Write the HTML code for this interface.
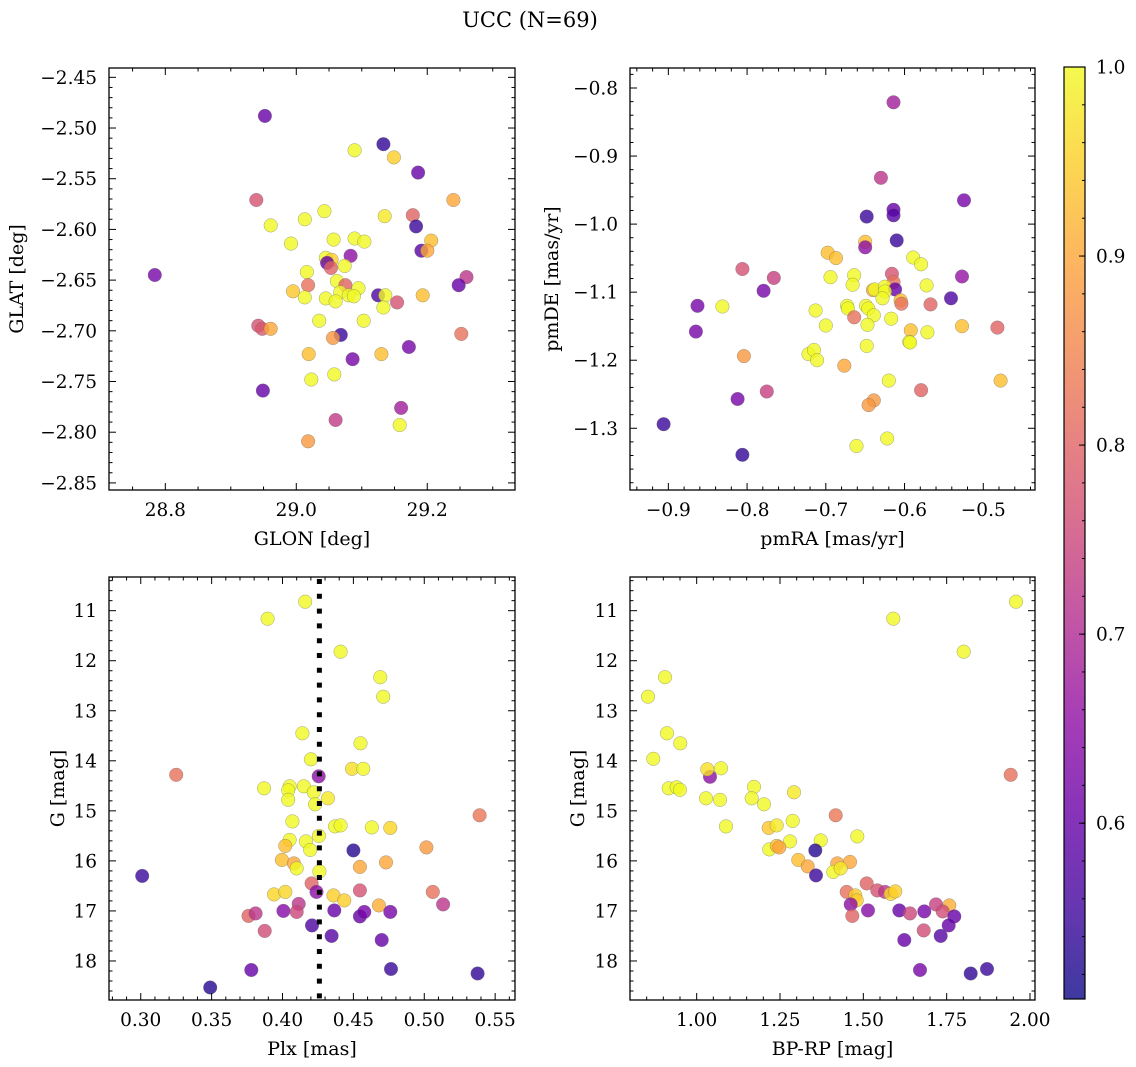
<!DOCTYPE html>
<html><head><meta charset="utf-8"><style>
html,body{margin:0;padding:0;background:#fff;}
svg{display:block;font-family:"DejaVu Serif","Liberation Serif",serif;}
</style></head><body>
<svg id="fig" width="1136" height="1067" viewBox="0 0 1136 1067" xmlns="http://www.w3.org/2000/svg">
<rect width="1136" height="1067" fill="#fff"/>
<text x="530" y="27" font-size="21" text-anchor="middle">UCC (N=69)</text>
<defs>
<linearGradient id="cbg" x1="0" y1="1" x2="0" y2="0">
<stop offset="0" stop-color="#0d0887"/><stop offset="0.1" stop-color="#41049d"/><stop offset="0.2" stop-color="#6a00a8"/><stop offset="0.3" stop-color="#8f0da4"/><stop offset="0.4" stop-color="#b12a90"/><stop offset="0.5" stop-color="#cc4778"/><stop offset="0.6" stop-color="#e16462"/><stop offset="0.7" stop-color="#f2844b"/><stop offset="0.8" stop-color="#fca636"/><stop offset="0.9" stop-color="#fcce25"/><stop offset="1" stop-color="#f0f921"/>
</linearGradient>
</defs>
<g id="root"></g>
</svg>
<script>
// Panel 1: GLON / GLAT
const p1x=[28.952,29.133,29.089,29.149,29.186,28.939,29.240,29.043,29.135,29.178,28.961,29.013,29.183,28.992,29.057,29.089,29.104,29.206,29.191,29.200,29.083,29.045,29.054,29.047,29.053,29.074,29.016,28.784,29.260,29.248,29.062,29.075,29.018,29.095,28.995,29.067,29.080,29.088,29.013,29.045,29.060,29.125,29.136,29.193,29.154,29.133,29.035,29.103,28.942,28.948,28.961,29.068,29.056,29.252,29.019,29.130,29.172,29.086,29.058,29.023,28.949,29.160,29.060,29.158,29.018];
const p1y=[-2.488,-2.516,-2.522,-2.529,-2.544,-2.571,-2.571,-2.582,-2.587,-2.586,-2.596,-2.590,-2.597,-2.614,-2.610,-2.609,-2.612,-2.611,-2.621,-2.621,-2.626,-2.628,-2.630,-2.633,-2.638,-2.636,-2.642,-2.645,-2.647,-2.655,-2.651,-2.655,-2.655,-2.658,-2.661,-2.662,-2.665,-2.666,-2.667,-2.668,-2.671,-2.665,-2.665,-2.665,-2.672,-2.677,-2.690,-2.690,-2.695,-2.698,-2.698,-2.704,-2.707,-2.703,-2.723,-2.723,-2.716,-2.728,-2.743,-2.748,-2.759,-2.776,-2.788,-2.793,-2.809];
const p1c=[0.6,0.54,1,0.95,0.6,0.77,0.9,1,0.98,0.8,1,1,0.55,1,1,1,1,0.93,0.58,0.9,0.65,1,0.95,0.6,0.8,1,1,0.62,0.72,0.6,1,0.8,0.82,1,0.94,1,1,1,1,1,1,0.57,1,0.93,0.77,1,1,1,0.77,0.78,0.9,0.55,0.88,0.82,0.93,0.93,0.62,0.62,1,1,0.6,0.68,0.73,1,0.88];
// Panel 2: pmRA / pmDE
const p2x=[-0.614,-0.630,-0.5245,-0.648,-0.614,-0.614,-0.610,-0.650,-0.650,-0.6976,-0.687,-0.589,-0.579,-0.806,-0.766,-0.694,-0.664,-0.666,-0.616,-0.614,-0.527,-0.572,-0.779,-0.640,-0.638,-0.625,-0.612,-0.625,-0.628,-0.541,-0.605,-0.604,-0.567,-0.863,-0.8314,-0.673,-0.672,-0.649,-0.646,-0.639,-0.713,-0.664,-0.647,-0.617,-0.700,-0.865,-0.592,-0.571,-0.527,-0.482,-0.594,-0.593,-0.648,-0.804,-0.722,-0.715,-0.711,-0.6765,-0.620,-0.478,-0.775,-0.579,-0.812,-0.639,-0.6456,-0.906,-0.622,-0.661,-0.806];
const p2y=[-0.821,-0.932,-0.965,-0.989,-0.979,-0.987,-1.024,-1.026,-1.034,-1.042,-1.050,-1.049,-1.059,-1.066,-1.079,-1.078,-1.075,-1.089,-1.073,-1.085,-1.077,-1.090,-1.098,-1.097,-1.096,-1.092,-1.096,-1.099,-1.109,-1.109,-1.112,-1.117,-1.118,-1.120,-1.121,-1.120,-1.124,-1.120,-1.124,-1.134,-1.127,-1.137,-1.148,-1.139,-1.149,-1.158,-1.156,-1.159,-1.150,-1.152,-1.173,-1.174,-1.179,-1.194,-1.191,-1.185,-1.200,-1.208,-1.230,-1.230,-1.246,-1.244,-1.257,-1.259,-1.266,-1.294,-1.315,-1.326,-1.339];
const p2c=[0.68,0.72,0.62,0.55,0.6,0.58,0.55,0.93,0.65,0.93,0.93,1,1,0.77,0.74,1,1,1,0.77,0.82,0.66,1,0.62,0.9,1,1,0.6,1,1,0.57,0.93,0.82,0.8,0.62,1,1,1,1,1,1,1,0.82,1,1,1,0.62,0.93,1,0.93,0.8,1,1,1,0.88,1,1,1,0.9,1,0.93,0.74,0.8,0.62,0.88,0.88,0.55,1,1,0.54];
// Panel 3: Plx / G
const p3x=[0.416,0.3895,0.441,0.469,0.471,0.414,0.455,0.420,0.325,0.4255,0.449,0.457,0.387,0.405,0.404,0.415,0.422,0.432,0.404,0.423,0.539,0.407,0.437,0.441,0.463,0.476,0.4257,0.405,0.4165,0.402,0.4195,0.450,0.5015,0.3996,0.408,0.410,0.4546,0.473,0.426,0.301,0.4205,0.424,0.4546,0.506,0.394,0.402,0.436,0.4436,0.468,0.5133,0.4114,0.376,0.381,0.4006,0.410,0.4365,0.4546,0.4577,0.476,0.4208,0.3874,0.4346,0.470,0.378,0.4765,0.5376,0.349];
const p3y=[10.82,11.16,11.82,12.33,12.72,13.45,13.65,13.97,14.28,14.31,14.16,14.16,14.55,14.51,14.59,14.51,14.63,14.75,14.78,14.87,15.09,15.21,15.31,15.29,15.33,15.34,15.5,15.58,15.61,15.7,15.78,15.79,15.73,15.98,16.05,16.15,16.12,16.03,16.21,16.3,16.45,16.62,16.59,16.62,16.67,16.62,16.69,16.79,16.89,16.87,16.86,17.1,17.05,17.0,17.02,16.99,17.11,17.02,17.02,17.29,17.4,17.5,17.58,18.18,18.16,18.25,18.53];
const p3c=[1,1,1,1,1,1,1,1,0.82,0.65,0.97,1,1,1,1,1,1,0.98,1,1,0.83,1,1,1,1,0.96,1,1,1,0.93,1,0.53,0.88,0.93,0.9,1,0.9,0.9,1,0.55,0.8,0.65,0.77,0.82,0.96,0.96,0.95,0.95,0.91,0.72,0.72,0.8,0.72,0.64,0.75,0.6,0.6,0.62,0.62,0.57,0.76,0.58,0.6,0.6,0.55,0.54,0.53];
const plxMean=[0.426];
// Panel 4: BP-RP / G
const p4x=[1.958,1.59,1.801,0.905,0.854,0.911,0.951,0.87,1.942,1.04,1.032,1.073,0.916,0.94,0.95,1.172,1.292,1.028,1.07,1.165,1.202,1.417,1.088,1.288,1.216,1.24,1.482,1.372,1.28,1.218,1.24,1.248,1.356,1.305,1.333,1.422,1.46,1.41,1.432,1.358,1.51,1.45,1.542,1.565,1.582,1.596,1.476,1.48,1.462,1.758,1.718,1.467,1.514,1.608,1.64,1.683,1.738,1.773,1.756,1.681,1.732,1.623,1.67,1.871,1.822];
const p4y=[10.82,11.16,11.82,12.33,12.72,13.45,13.65,13.96,14.28,14.32,14.17,14.15,14.55,14.53,14.58,14.52,14.63,14.75,14.78,14.75,14.87,15.09,15.31,15.2,15.34,15.29,15.51,15.59,15.61,15.77,15.7,15.73,15.79,15.98,16.11,16.05,16.02,16.22,16.15,16.29,16.45,16.62,16.59,16.62,16.66,16.61,16.69,16.79,16.87,16.89,16.87,17.1,16.99,16.99,17.05,17.01,17.01,17.11,17.29,17.39,17.5,17.58,18.18,18.16,18.25];
const p4c=[1,1,1,1,1,1,1,1,0.82,0.65,0.97,1,1,1,1,1,0.98,1,1,1,1,0.83,1,1,0.94,0.98,1,1,1,1,0.93,0.9,0.53,0.93,0.9,0.9,0.9,1,0.98,0.55,0.8,0.82,0.77,0.72,0.96,0.95,0.95,0.95,0.65,0.91,0.74,0.8,0.64,0.6,0.75,0.62,0.76,0.6,0.6,0.76,0.58,0.6,0.62,0.55,0.54];
const cbTicks=[0.6,0.7,0.8,0.9,1.0];
const cbMin=0.507, cbMax=1.0;

const NS="http://www.w3.org/2000/svg";
const root=document.getElementById('root');
const TICKFS=18.5, LABFS=19;
function mk(tag,attrs,parent){const e=document.createElementNS(NS,tag);for(const k in attrs)e.setAttribute(k,attrs[k]);(parent||root).appendChild(e);return e;}
const stops=[[13,8,135],[65,4,157],[106,0,168],[143,13,164],[177,42,144],[204,71,120],[225,100,98],[242,132,75],[252,166,54],[252,206,37],[240,249,33]];
function plasma(t){t=Math.max(0,Math.min(1,t));const f=t*10;const i=Math.min(9,Math.floor(f));const r=f-i;const a=stops[i],b=stops[i+1];return 'rgb('+[0,1,2].map(k=>Math.round(a[k]+(b[k]-a[k])*r)).join(',')+')';}
function fmt(v,d){const s=Math.abs(v).toFixed(d);return (v<-1e-9?'\u2212':'')+s;}

function panel(cfg){
  const g=mk('g',{});
  
  
  const X=v=>cfg.L+(v-cfg.x0)/(cfg.x1-cfg.x0)*(cfg.R-cfg.L);
  const Y=v=>cfg.T+(v-cfg.y0)/(cfg.y1-cfg.y0)*(cfg.B-cfg.T);
  const clip='clip-'+cfg.name;
  const cp=mk('clipPath',{id:clip},g);mk('rect',{x:cfg.L,y:cfg.T,width:cfg.R-cfg.L,height:cfg.B-cfg.T},cp);
  const pts=mk('g',{'clip-path':'url(#'+clip+')'},g);
  for(let i=0;i<cfg.xs.length;i++){
    const c=mk('circle',{cx:X(cfg.xs[i]).toFixed(1),cy:Y(cfg.ys[i]).toFixed(1),r:6.8,fill:plasma((cfg.cs[i]-cbMin)/(cbMax-cbMin)),'fill-opacity':0.8,stroke:'#666','stroke-opacity':0.6,'stroke-width':0.5},pts);
    
    
  }
  if(cfg.vline){
    const l=mk('line',{x1:X(cfg.vline),x2:X(cfg.vline),y1:cfg.T+2,y2:cfg.B,stroke:'#000','stroke-width':5,'stroke-dasharray':'5 9.8'},pts);
    
    
  }
  const tk=mk('g',{stroke:'#000','stroke-width':1},g);
  const lo=Math.min(cfg.x0,cfg.x1),hi=Math.max(cfg.x0,cfg.x1);
  for(let k=Math.ceil(lo/cfg.xmin-1e-6);k*cfg.xmin<=hi+1e-9;k++){
    const v=k*cfg.xmin;const major=Math.abs(v/cfg.xmaj-Math.round(v/cfg.xmaj))<1e-6;const len=major?7:3.5;const x=X(v);
    mk('line',{x1:x,x2:x,y1:cfg.B,y2:cfg.B-len},tk);mk('line',{x1:x,x2:x,y1:cfg.T,y2:cfg.T+len},tk);
    if(major){const t=mk('text',{x:x,y:cfg.B+26,'font-size':TICKFS,'text-anchor':'middle',stroke:'none',fill:'#000'},g);t.textContent=fmt(v,cfg.xd);
      
      }
  }
  const ylo=Math.min(cfg.y0,cfg.y1),yhi=Math.max(cfg.y0,cfg.y1);
  for(let k=Math.ceil(ylo/cfg.ymin-1e-6);k*cfg.ymin<=yhi+1e-9;k++){
    const v=k*cfg.ymin;const major=Math.abs(v/cfg.ymaj-Math.round(v/cfg.ymaj))<1e-6;const len=major?7:3.5;const y=Y(v);
    mk('line',{x1:cfg.L,x2:cfg.L+len,y1:y,y2:y},tk);mk('line',{x1:cfg.R,x2:cfg.R-len,y1:y,y2:y},tk);
    if(major){const t=mk('text',{x:cfg.L-12,y:y+6.5,'font-size':TICKFS,'text-anchor':'end',stroke:'none',fill:'#000'},g);t.textContent=fmt(v,cfg.yd);
      
      }
  }
  const fr=mk('rect',{x:cfg.L,y:cfg.T,width:cfg.R-cfg.L,height:cfg.B-cfg.T,fill:'none',stroke:'#000','stroke-width':1.3},g);
  
  
  const xl=mk('text',{x:(cfg.L+cfg.R)/2,y:cfg.B+55,'font-size':LABFS,'text-anchor':'middle'},g);xl.textContent=cfg.xlab;
  
  
  const yx=cfg.ylx, yy=(cfg.T+cfg.B)/2;
  const yl=mk('text',{x:yx,y:yy,'font-size':LABFS,'text-anchor':'middle',transform:'rotate(-90 '+yx+' '+yy+')'},g);yl.textContent=cfg.ylab;
  
  
}

panel({name:'panel-glon-glat',L:109,R:515,T:68,B:490,x0:28.714,x1:29.334,y0:-2.4408,y1:-2.857,xs:p1x,ys:p1y,cs:p1c,xmaj:0.2,xmin:0.05,xd:1,ymaj:0.05,ymin:0.01,yd:2,xlab:'GLON [deg]',ylab:'GLAT [deg]',ylx:23});
panel({name:'panel-pm',L:630,R:1035,T:68,B:490,x0:-0.9487,x1:-0.4343,y0:-0.7706,y1:-1.3907,xs:p2x,ys:p2y,cs:p2c,xmaj:0.1,xmin:0.02,xd:1,ymaj:0.1,ymin:0.02,yd:1,xlab:'pmRA [mas/yr]',ylab:'pmDE [mas/yr]',ylx:558});
panel({name:'panel-plx-g',L:109,R:515,T:577,B:1000,x0:0.2776,x1:0.564,y0:10.327,y1:18.78,xs:p3x,ys:p3y,cs:p3c,xmaj:0.05,xmin:0.01,xd:2,ymaj:1,ymin:0.2,yd:0,xlab:'Plx [mas]',ylab:'G [mag]',ylx:64,vline:plxMean[0]});
panel({name:'panel-cmd',L:630,R:1035,T:577,B:1000,x0:0.8,x1:2.015,y0:10.327,y1:18.78,xs:p4x,ys:p4y,cs:p4c,xmaj:0.25,xmin:0.05,xd:2,ymaj:1,ymin:0.2,yd:0,xlab:'BP-RP [mag]',ylab:'G [mag]',ylx:584});

const cb=mk('g',{});


const cT=67,cB=999,cL=1064,cR=1085;
mk('rect',{x:cL,y:cT,width:cR-cL,height:cB-cT,fill:'url(#cbg)','fill-opacity':0.8},cb);
mk('rect',{x:cL,y:cT,width:cR-cL,height:cB-cT,fill:'none',stroke:'#000','stroke-width':1.2},cb);
const CY=v=>cB-(v-cbMin)/(cbMax-cbMin)*(cB-cT);
for(let k=26;k<=50;k++){const v=k*0.02;if(v<cbMin)continue;const y=CY(v);mk('line',{x1:cR,x2:cR-3,y1:y,y2:y,stroke:'#000','stroke-width':1},cb);}
cbTicks.forEach(v=>{const y=CY(v);mk('line',{x1:cR,x2:cR-6,y1:y,y2:y,stroke:'#000','stroke-width':1},cb);
  const t=mk('text',{x:cR+11,y:y+6.5,'font-size':TICKFS},cb);t.textContent=v.toFixed(1);
  
  });
</script>
</body></html>
